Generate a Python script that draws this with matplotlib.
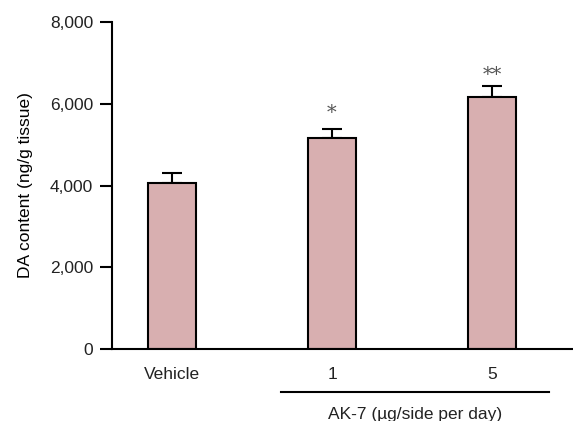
import matplotlib.pyplot as plt
from matplotlib.transforms import blended_transform_factory

groups = ['Vehicle', '1', '5']
means = [4060, 5160, 6165]
errors = [245, 230, 270]
marks = ['', '*', '**']

plt.rcParams['font.family'] = ['Liberation Sans', 'DejaVu Sans']
plt.rcParams['text.color'] = '#222222'
plt.rcParams['xtick.labelcolor'] = '#222222'
plt.rcParams['ytick.labelcolor'] = '#222222'

fig = plt.figure(figsize=(5.73, 4.21), dpi=100)
ax = fig.add_axes([112 / 573, 1 - 349 / 421, 1 - 112 / 573, (349 - 22) / 421])

x = list(range(len(groups)))
ax.bar(x, means, width=0.3, color='#d8afb0', edgecolor='black', linewidth=1.5, zorder=2)
ax.errorbar(x, means, yerr=[[0] * len(errors), errors], fmt='none', ecolor='black',
            elinewidth=1.5, capsize=7.5, capthick=1.5, zorder=1)

# significance stars (small nudges so they sit like the original)
star_pad = [0, 4.5, 1.5]
for xi, m, e, s, p in zip(x, means, errors, marks, star_pad):
    if s:
        ax.annotate(s, (xi, m + e), xytext=(0, p), textcoords='offset points',
                    ha='center', va='bottom', fontsize=14, color='#555555',
                    family='DejaVu Serif')

ax.set_xlim(-0.375, 2.506)
ax.set_ylim(0, 8000)
ax.set_yticks([0, 2000, 4000, 6000, 8000])
ax.set_yticklabels(['0', '2,000', '4,000', '6,000', '8,000'])
ax.set_xticks(x)
ax.set_xticklabels(groups)

for side in ['top', 'right']:
    ax.spines[side].set_visible(False)
for side in ['left', 'bottom']:
    ax.spines[side].set_linewidth(1.5)

ax.tick_params(axis='y', direction='out', length=8.5, width=1.5, pad=5, labelsize=12.5)
ax.tick_params(axis='x', length=0, pad=13, labelsize=12.5)

ax.set_ylabel('DA content (ng/g tissue)', fontsize=12.5)
ax.yaxis.set_label_coords(-0.172, 0.5)

# group bracket under dose bars
trans = blended_transform_factory(ax.transData, ax.transAxes)
ax.plot([0.68, 2.356], [-0.1315, -0.1315], color='black', lw=1.5,
        transform=trans, clip_on=False)
ax.text((0.68 + 2.356) / 2, -0.178, 'AK-7 (µg/side per day)', transform=trans,
        ha='center', va='top', fontsize=12.5)

fig.savefig('out.png', dpi=100)
